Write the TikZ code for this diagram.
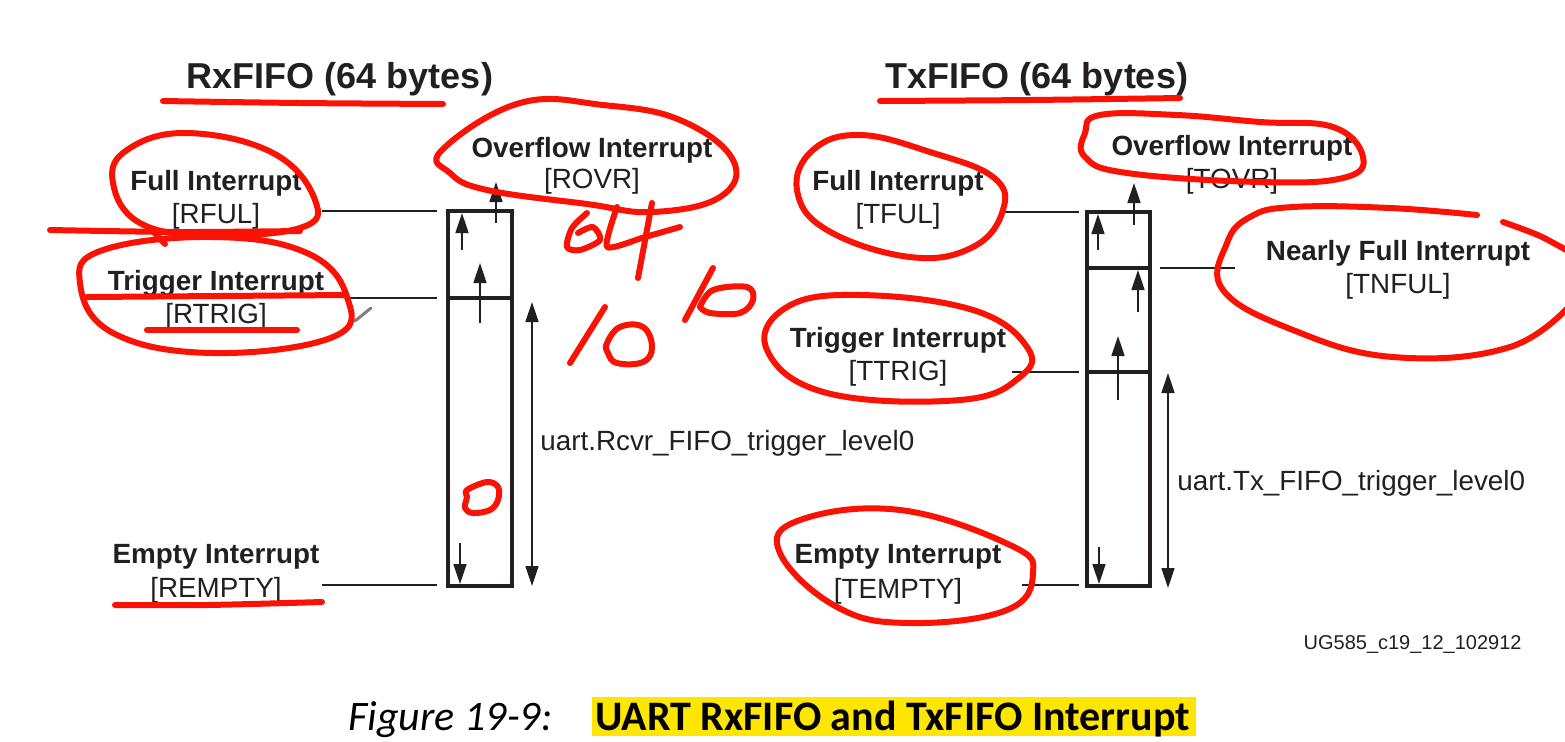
\documentclass[tikz,border=0pt]{standalone}
\usepackage{fontspec}
\setmainfont{Liberation Sans}
\newfontfamily\capfont{Carlito}
\usetikzlibrary{arrows.meta}
\definecolor{ink}{RGB}{35,31,32}
\definecolor{pen}{RGB}{250,18,5}
\definecolor{hl}{RGB}{255,230,0}
\tikzset{
  lbl/.style={font=\fontsize{13.9}{16}\selectfont\bfseries, text=ink, anchor=base, inner sep=0pt},
  reg/.style={font=\fontsize{13.9}{16}\selectfont, text=ink, anchor=base, inner sep=0pt},
  ttl/.style={font=\fontsize{18}{21}\selectfont\bfseries, text=ink, anchor=base, inner sep=0pt},
  fifobox/.style={draw=ink, line width=2pt},
  leader/.style={draw=ink, line width=0.75pt},
  uparrow/.style={draw=ink, line width=0.75pt, -{Triangle[length=10pt,width=6.5pt]}},
  dblarrow/.style={draw=ink, line width=0.75pt, {Triangle[length=10pt,width=6.5pt]}-{Triangle[length=10pt,width=6.5pt]}},
  ink red/.style={draw=pen, line width=3pt, line cap=round, line join=round},
}
\begin{document}
\begin{tikzpicture}[x=0.5pt,y=-0.5pt]
\useasboundingbox (0,0) rectangle (1565,741);
\fill[white] (0,0) rectangle (1565,741);

% ---------- titles ----------
\node[ttl] (rxtitle) at (340,88) {RxFIFO (64 bytes)};
\node[ttl] (txtitle) at (1037,88) {TxFIFO (64 bytes)};

% ---------- Rx FIFO ----------
\coordinate (rxTL) at (448,211);
\coordinate (rxBR) at (512,586);
\draw[fifobox] (rxTL) rectangle (rxBR);
\coordinate (rxDivL) at (448,298);
\coordinate (rxDivR) at (512,298);
\draw[fifobox] (rxDivL) -- (rxDivR);

\draw[uparrow] (462,250) -- (462,213);
\draw[uparrow] (496,223) -- (496,182);
\draw[uparrow] (480,323) -- (480,263);
\draw[uparrow] (460,543) -- (460,584);
\draw[dblarrow] (532,302) -- (532,586);

\node[lbl] (rovrT) at (592,157) {Overflow Interrupt};
\node[reg] (rovr) at (592,188) {[ROVR]};
\node[lbl] (rfulT) at (216,190) {Full Interrupt};
\node[reg] (rful) at (216,223) {[RFUL]};
\node[lbl] (rtrigT) at (216,290) {Trigger Interrupt};
\node[reg] (rtrig) at (216,323) {[RTRIG]};
\node[lbl] (remptyT) at (216,563) {Empty Interrupt};
\node[reg] (rempty) at (216,597) {[REMPTY]};
\node[reg, anchor=base west] (rxlevel) at (540,450) {uart.Rcvr\_FIFO\_trigger\_level0};

\coordinate (rfulA) at (322,211);  \coordinate (rfulB) at (437,211);
\coordinate (rtrigA) at (350,298); \coordinate (rtrigB) at (437,298);
\coordinate (remptyA) at (322,585); \coordinate (remptyB) at (437,585);
\draw[leader] (rfulA) -- (rfulB);
\draw[leader] (rtrigA) -- (rtrigB);
\draw[leader] (remptyA) -- (remptyB);

% ---------- Tx FIFO ----------
\coordinate (txTL) at (1087,212);
\coordinate (txBR) at (1150,586);
\draw[fifobox] (txTL) rectangle (txBR);
\coordinate (txDiv1L) at (1087,268); \coordinate (txDiv1R) at (1150,268);
\coordinate (txDiv2L) at (1087,372); \coordinate (txDiv2R) at (1150,372);
\draw[fifobox] (txDiv1L) -- (txDiv1R);
\draw[fifobox] (txDiv2L) -- (txDiv2R);

\draw[uparrow] (1098,250) -- (1098,214);
\draw[uparrow] (1134,225) -- (1134,183);
\draw[uparrow] (1138,312) -- (1138,270);
\draw[uparrow] (1118,400) -- (1118,336);
\draw[uparrow] (1099,547) -- (1099,584);
\draw[dblarrow] (1168,373) -- (1168,588);

\node[lbl] (tovrT) at (1232,155) {Overflow Interrupt};
\node[reg] (tovr) at (1232,188) {[TOVR]};
\node[lbl] (tfulT) at (898,190) {Full Interrupt};
\node[reg] (tful) at (898,223) {[TFUL]};
\node[lbl] (tnfulT) at (1398,260) {Nearly Full Interrupt};
\node[reg] (tnful) at (1398,293) {[TNFUL]};
\node[lbl] (ttrigT) at (898,347) {Trigger Interrupt};
\node[reg] (ttrig) at (898,380) {[TTRIG]};
\node[lbl] (temptyT) at (898,563) {Empty Interrupt};
\node[reg] (tempty) at (898,598) {[TEMPTY]};
\node[reg, anchor=base west] (txlevel) at (1177,490) {uart.Tx\_FIFO\_trigger\_level0};

\coordinate (tfulA) at (1005,212);  \coordinate (tfulB) at (1079,212);
\coordinate (ttrigA) at (1012,372); \coordinate (ttrigB) at (1079,372);
\coordinate (temptyA) at (1022,585); \coordinate (temptyB) at (1079,585);
\coordinate (tnfulA) at (1160,268); \coordinate (tnfulB) at (1235,268);
\draw[leader] (tfulA) -- (tfulB);
\draw[leader] (ttrigA) -- (ttrigB);
\draw[leader] (temptyA) -- (temptyB);
\draw[leader] (tnfulA) -- (tnfulB);

\node[font=\fontsize{10}{12}\selectfont, text=ink, anchor=base east, inner sep=0pt] (figid) at (1522,649) {UG585\_c19\_12\_102912};

% ---------- caption ----------
\fill[hl] (592,697) rectangle (1196,736);
\node[font=\capfont\fontsize{21}{24}\selectfont\itshape, anchor=base west, inner sep=0pt] (capnum) at (348,730) {Figure 19-9:};
\node[font=\capfont\fontsize{21}{24}\selectfont\bfseries, anchor=base west, inner sep=0pt] (captxt) at (595,730) {UART RxFIFO and TxFIFO Interrupt};

% ---------- red hand annotations ----------
\begin{scope}
\clip (0,0) rectangle (1565,741);
% title underlines
\draw[ink red] plot[smooth] coordinates {(163,101) (300,103) (443,104)};
\draw[ink red] plot[smooth] coordinates {(880,101) (1030,100) (1180,98)};
% Rx Full
\draw[ink red] plot[smooth cycle, tension=0.7] coordinates {(187,133) (273,153) (315,200) (300,228) (207,235) (140,223) (113,183) (127,150)};
\draw[ink red] plot[smooth] coordinates {(50,230) (180,232) (300,231)};
\draw[ink red] (150,228) -- (165,244);
% Rx Trigger
\draw[ink red] plot[smooth cycle, tension=0.7] coordinates {(213,237) (307,253) (347,297) (333,337) (213,353) (113,333) (80,283) (103,250)};
\draw[ink red] plot[smooth] coordinates {(87,297) (220,296) (345,295)};
\draw[ink red] (147,330) -- (297,330);
% Rx Overflow
\draw[ink red] plot[smooth cycle, tension=0.7] coordinates {(442,150) (520,103) (603,105) (680,120) (733,160) (720,197) (653,212) (587,204) (487,190) (450,173)};
% 64
\draw[ink red] plot[smooth] coordinates {(587,213) (572,228) (567,247) (580,250) (600,240) (593,227) (578,233)};
\draw[ink red] plot[smooth, tension=0.4] coordinates {(617,207) (607,247) (645,237) (680,227)};
\draw[ink red] (652,203) -- (638,278);
% 10
\draw[ink red] (605,307) -- (570,363);
\draw[ink red] plot[smooth cycle, tension=0.7] coordinates {(607,343) (620,327) (643,327) (652,347) (643,362) (617,363) (608,353)};
% b
\draw[ink red] (713,268) -- (685,320);
\draw[ink red] plot[smooth, tension=0.6] coordinates {(700,307) (713,290) (747,287) (753,300) (740,313) (710,313) (700,307)};
% 0 in Rx box
\draw[ink red] plot[smooth cycle, tension=0.6] coordinates {(467,490) (487,482) (498,487) (498,500) (490,510) (473,513) (465,508) (467,497)};
% REMPTY underline
\draw[ink red] plot[smooth] coordinates {(115,605) (207,605) (322,602)};
% pen cursor
\draw[gray, line width=1.5pt, line cap=round] (355,321) -- (371,308);
% Tx Full
\draw[ink red] plot[smooth cycle, tension=0.7] coordinates {(860,135) (930,152) (993,177) (1003,210) (973,247) (910,257) (827,230) (797,190) (813,150)};
% Tx Trigger
\draw[ink red] plot[smooth cycle, tension=0.7] coordinates {(860,295) (973,310) (1027,347) (1020,377) (960,400) (827,393) (767,350) (787,307)};
% Tx Overflow
\draw[ink red] plot[smooth cycle, tension=0.7] coordinates {(1100,115) (1177,115) (1260,122) (1333,127) (1363,157) (1343,178) (1260,182) (1127,173) (1085,157) (1085,133)};
% Nearly Full
\draw[ink red] plot[smooth, tension=0.7] coordinates {(1477,215) (1390,208) (1293,207) (1250,217) (1227,243) (1223,290) (1293,330) (1393,357) (1510,347) (1575,300)};
\draw[ink red] plot[smooth] coordinates {(1503,222) (1540,236) (1575,255)};
% Tx Empty
\draw[ink red] plot[smooth cycle, tension=0.7] coordinates {(900,510) (1010,545) (1033,573) (1007,610) (910,623) (837,607) (780,553) (800,520)};
\end{scope}
\end{tikzpicture}
\end{document}
